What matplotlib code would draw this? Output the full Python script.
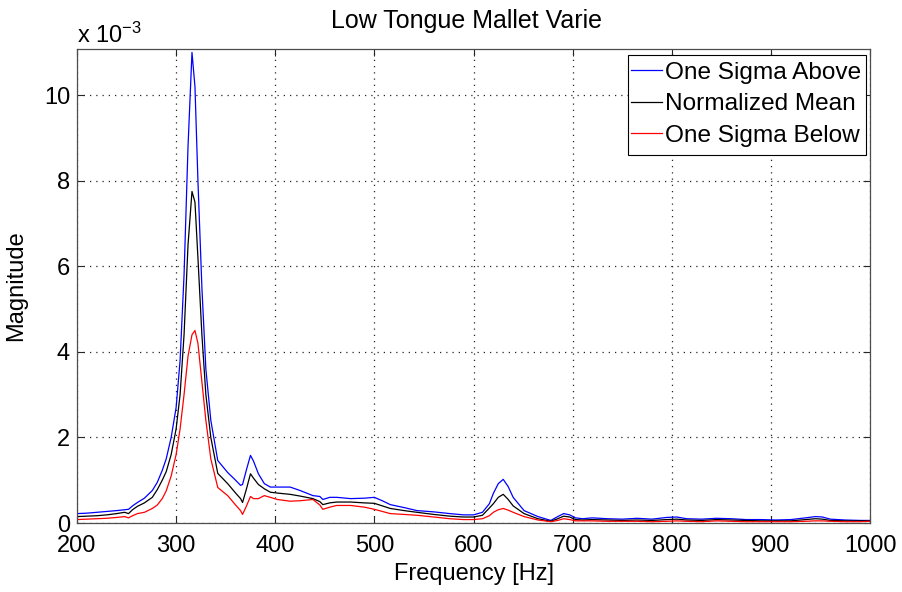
#!/usr/bin/env python3
"""Spectrum of the low tongue, mallet varied: mean and +/- one sigma"""

import numpy as np
import matplotlib
matplotlib.use('Agg')
import matplotlib.pyplot as plt
from matplotlib.patches import Rectangle
from matplotlib.transforms import Bbox

plt.rcParams['font.family'] = ['Liberation Sans', 'DejaVu Sans']
plt.rcParams['mathtext.default'] = 'regular'

# Frequency axis [Hz] and magnitudes (in units of 1e-3)
freq = [200, 210, 220, 230, 240, 248, 252, 256, 261, 268, 276, 281, 286, 290,
        295, 300, 304, 308, 312, 316, 319, 322, 326, 330, 335, 342, 352, 360,
        365, 367, 371, 375, 378, 383, 389, 395, 402, 415, 425, 438, 445, 448,
        455, 462, 476, 490, 500, 508, 516, 530, 543, 560, 576, 590, 600, 609,
        616, 620, 625, 630, 635, 640, 651, 665, 678, 685, 691, 697, 703, 710,
        720, 735, 750, 765, 780, 795, 805, 815, 830, 845, 860, 875, 890, 905,
        920, 935, 945, 952, 960, 975, 990, 1000]

sigma_above = [0.22, 0.23, 0.25, 0.27, 0.29, 0.31, 0.32, 0.40, 0.48, 0.58, 0.76, 0.95, 1.23, 1.50,
               2.00, 2.70, 3.80, 5.80, 8.80, 11.00, 10.20, 8.00, 5.50, 3.60, 2.40, 1.46, 1.18, 1.00,
               0.88, 0.90, 1.25, 1.58, 1.45, 1.15, 0.92, 0.84, 0.84, 0.84, 0.76, 0.64, 0.62, 0.55,
               0.60, 0.60, 0.57, 0.58, 0.60, 0.52, 0.43, 0.36, 0.29, 0.26, 0.22, 0.19, 0.19, 0.25,
               0.45, 0.69, 0.92, 1.02, 0.85, 0.60, 0.29, 0.15, 0.06, 0.15, 0.22, 0.19, 0.12, 0.10,
               0.12, 0.10, 0.09, 0.11, 0.09, 0.13, 0.14, 0.10, 0.09, 0.11, 0.10, 0.08, 0.08, 0.07,
               0.08, 0.12, 0.15, 0.14, 0.09, 0.07, 0.06, 0.06]

norm_mean = [0.15, 0.16, 0.17, 0.19, 0.22, 0.25, 0.22, 0.31, 0.39, 0.47, 0.60, 0.78, 1.00, 1.20,
             1.60, 2.20, 3.00, 4.40, 6.50, 7.75, 7.50, 6.20, 4.40, 3.00, 2.00, 1.16, 0.92, 0.70,
             0.57, 0.48, 0.80, 1.15, 1.05, 0.90, 0.80, 0.72, 0.70, 0.67, 0.63, 0.57, 0.50, 0.43,
             0.47, 0.49, 0.49, 0.47, 0.46, 0.40, 0.34, 0.29, 0.25, 0.20, 0.16, 0.14, 0.14, 0.18,
             0.35, 0.45, 0.60, 0.67, 0.55, 0.40, 0.22, 0.10, 0.04, 0.10, 0.16, 0.14, 0.08, 0.07,
             0.08, 0.07, 0.06, 0.07, 0.06, 0.08, 0.09, 0.07, 0.06, 0.08, 0.07, 0.06, 0.05, 0.05,
             0.05, 0.08, 0.10, 0.09, 0.06, 0.05, 0.05, 0.05]

sigma_below = [0.08, 0.09, 0.10, 0.11, 0.13, 0.15, 0.12, 0.17, 0.22, 0.25, 0.34, 0.42, 0.57, 0.75,
               1.10, 1.60, 2.20, 3.00, 3.90, 4.40, 4.50, 4.20, 3.30, 2.40, 1.50, 0.83, 0.64, 0.42,
               0.29, 0.20, 0.40, 0.62, 0.57, 0.57, 0.64, 0.60, 0.55, 0.51, 0.52, 0.55, 0.42, 0.32,
               0.37, 0.41, 0.41, 0.37, 0.32, 0.27, 0.22, 0.20, 0.18, 0.14, 0.10, 0.08, 0.08, 0.10,
               0.17, 0.25, 0.31, 0.34, 0.30, 0.25, 0.15, 0.07, 0.03, 0.06, 0.10, 0.08, 0.05, 0.05,
               0.05, 0.04, 0.04, 0.04, 0.03, 0.04, 0.05, 0.04, 0.03, 0.05, 0.04, 0.03, 0.03, 0.03,
               0.03, 0.04, 0.05, 0.05, 0.04, 0.03, 0.03, 0.04]

labels = ['One Sigma Above', 'Normalized Mean', 'One Sigma Below']
colors = ['#0000ff', '#000000', '#ff0000']

x_ticks = [200, 300, 400, 500, 600, 700, 800, 900, 1000]
y_ticks = [0, 2, 4, 6, 8, 10]

W, H = 902, 592
fig = plt.figure(figsize=(W / 100, H / 100), dpi=100)
ax = fig.add_axes([77 / W, 1 - 523 / H, (870 - 77) / W, (523 - 49) / H])

for vals, lab, col in zip([sigma_above, norm_mean, sigma_below], labels, colors):
    ax.plot(freq, vals, color=col, linewidth=0.9, label=lab)

ax.set_xlim(200, 1000)
ax.set_ylim(0, 11.08)
ax.set_xticks(x_ticks)
ax.set_yticks(y_ticks)
ax.grid(True, linestyle=(0, (1, 4)), color='0.15', linewidth=0.9)
ax.tick_params(direction='in', length=5, width=0.8, top=True, right=True,
               labelsize=17, colors='0.15', labelcolor='black')
ax.tick_params(axis='x', pad=9)
ax.tick_params(axis='y', pad=5)
for sp in ax.spines.values():
    sp.set_color('0.3')
    sp.set_linewidth(0.9)

ax.set_xlabel('Frequency [Hz]', fontsize=17, labelpad=4)
ax.set_ylabel('Magnitude', fontsize=17, labelpad=12)

# exponent label, MATLAB style
fig.text(77 / W, 1 - 43 / H, 'x 10$^{-3}$', fontsize=17, ha='left', va='baseline')

# title, cut off at the right like the original figure
title = fig.text(473 / W, 1 - 28 / H, 'Low Tongue Mallet Varied', fontsize=18,
                 ha='center', va='baseline')
renderer = fig.canvas.get_renderer()
ext = title.get_window_extent(renderer)
title.set_clip_box(Bbox.from_extents(0, 0, ext.x1 - 12, H))
title.set_clip_on(True)

# legend: fixed box, texts running past its right edge get cut
box = Rectangle((628 / W, 1 - 155 / H), (866 - 628) / W, 100 / H,
                transform=fig.transFigure, facecolor='white', edgecolor='black',
                linewidth=0.8, zorder=4.5, clip_on=False)
ax.add_patch(box)
leg = ax.legend(loc='upper left', bbox_to_anchor=(624 / W, 1 - 55 / H),
                bbox_transform=fig.transFigure, borderaxespad=0, frameon=False,
                fontsize=17.6, handlelength=1.3, handletextpad=0.1,
                borderpad=0.27, labelspacing=0.38)
for t in leg.get_texts():
    t.set_clip_box(Bbox.from_extents(0, 0, 863, H))
    t.set_clip_on(True)

fig.savefig('out.png', dpi=100, facecolor='white')
